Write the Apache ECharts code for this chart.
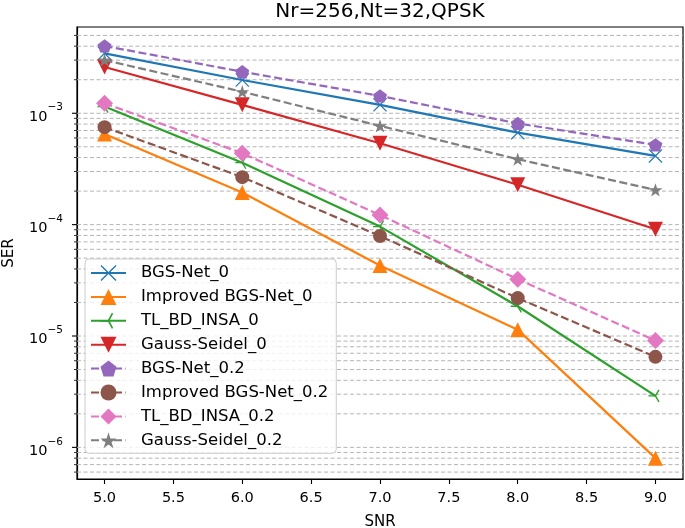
<!DOCTYPE html>
<html><head><meta charset="utf-8">
<script src="https://cdn.jsdelivr.net/npm/echarts@6/dist/echarts.min.js"></script>
<style>html,body{margin:0;padding:0;background:#fff}#c{width:685px;height:528px}</style>
</head><body><div id="c"></div>
<script>
// ---- data ----
const snr = [5, 6, 7, 8, 9];
const xTicks = [5.0, 5.5, 6.0, 6.5, 7.0, 7.5, 8.0, 8.5, 9.0];
const yMajorTicks = [1e-6, 1e-5, 1e-4, 1e-3];
const yMinorMultipliers = [2, 3, 4, 5, 6, 7, 8, 9];
const yDecades = [1e-7, 1e-6, 1e-5, 1e-4, 1e-3];

const bgsNet0     = [3.45e-3, 1.99e-3, 1.19e-3, 6.7e-4, 4.14e-4];
const improved0   = [6.5e-4, 1.94e-4, 4.3e-5, 1.14e-5, 8.0e-7];
const tlbdInsa0   = [1.15e-3, 3.6e-4, 9.6e-5, 1.85e-5, 2.9e-6];
const gaussSeidel0= [2.6e-3, 1.19e-3, 5.38e-4, 2.28e-4, 9.1e-5];
const bgsNet02    = [4.02e-3, 2.36e-3, 1.43e-3, 8.1e-4, 5.2e-4];
const improved02  = [7.5e-4, 2.67e-4, 7.9e-5, 2.19e-5, 6.5e-6];
const tlbdInsa02  = [1.23e-3, 4.38e-4, 1.22e-4, 3.24e-5, 9.1e-6];
const gaussSeidel02=[3.0e-3, 1.56e-3, 7.7e-4, 3.87e-4, 2.05e-4];

const seriesNames = ['BGS-Net_0','Improved BGS-Net_0','TL_BD_INSA_0','Gauss-Seidel_0',
  'BGS-Net_0.2','Improved BGS-Net_0.2','TL_BD_INSA_0.2','Gauss-Seidel_0.2'];
const seriesValues = [bgsNet0, improved0, tlbdInsa0, gaussSeidel0, bgsNet02, improved02, tlbdInsa02, gaussSeidel02];
const titleText = 'Nr=256,Nt=32,QPSK';

// ---- styles ----
const xMin = 4.8, xMax = 9.2, yMin = 5.2e-7, yMax = 5.95e-3;
const FONT = 'DejaVu Sans';
const colors = ['#1f77b4','#ff7f0e','#2ca02c','#d62728','#9467bd','#8c564b','#e377c2','#7f7f7f'];
const SYM = {
  x: 'path://M0,6L6,0L50,44L94,0L100,6L56,50L100,94L94,100L50,56L6,100L0,94L44,50Z',
  triUp: 'triangle',
  triLeft: 'path://M0,45L50,45L50,55L0,55Z M45.67,47.5L70.67,4.2L79.33,9.2L54.33,52.5Z M54.33,47.5L79.33,90.8L70.67,95.8L45.67,52.5Z M99.8,49.8L100,50L99.8,50.2Z',
  triDown: 'path://M0,0L100,0L50,100Z',
  pentagon: 'path://M50,0L97.55,34.55L79.39,90.45L20.61,90.45L2.45,34.55Z',
  circle: 'circle',
  diamond: 'diamond',
  star: 'path://M50,0L61.17,34.63L97.55,34.55L68.07,55.87L79.39,90.45L50,69L20.61,90.45L31.93,55.87L2.45,34.55L38.83,34.63Z'
};
const symbols = [SYM.x, SYM.triUp, SYM.triLeft, SYM.triDown, SYM.pentagon, SYM.circle, SYM.diamond, SYM.star];
const symSizes = [14, 15, 14, 15, 14, 14, 17, 14];
const dashed = [false,false,false,false,true,true,true,true];

const gridValues = [];
yDecades.forEach(d => { gridValues.push(d); yMinorMultipliers.forEach(m => gridValues.push(m * d)); });
const gridInRange = gridValues.filter(v => v >= yMin && v <= yMax);
const minorInRange = gridInRange.filter(v => yMajorTicks.indexOf(v) < 0);

const chart = echarts.init(document.getElementById('c'), null, {renderer: 'canvas'});

const series = [];
seriesNames.forEach((n, i) => {
  series.push({
    name: n, type: 'line',
    data: snr.map((x, j) => [x, seriesValues[i][j]]),
    symbol: symbols[i], symbolSize: symSizes[i], symbolKeepAspect: true,
    showSymbol: true,
    lineStyle: {color: colors[i], width: 2.2, type: dashed[i] ? [8, 3.5] : 'solid'},
    itemStyle: {color: colors[i], opacity: 1},
    emphasis: {disabled: true},
    z: 2 + i
  });
});

chart.setOption({
  animation: false,
  backgroundColor: '#fff',
  textStyle: {fontFamily: FONT},
  title: {
    text: titleText, left: 380, textAlign: 'center', top: 2, padding: 0,
    textStyle: {fontFamily: FONT, fontSize: 20, fontWeight: 'normal', color: '#000'}
  },
  grid: {left: 77, right: 2, top: 27, bottom: 49, containLabel: false, outerBoundsMode: 'none',
    show: true, borderColor: '#000', borderWidth: 1.2, backgroundColor: 'transparent'},
  legend: {
    data: seriesNames, orient: 'vertical', left: 85, top: 259,
    padding: [5, 8, 4, 5], itemWidth: 35, itemHeight: 20, itemGap: 5.9,
    backgroundColor: 'rgba(255,255,255,0.8)', borderColor: '#cccccc', borderWidth: 1, borderRadius: 4,
    textStyle: {fontFamily: FONT, fontSize: 16.5, color: '#000', padding: [0, 0, 0, 10], lineHeight: 18},
    selectedMode: false, z: 20
  },
  xAxis: {
    type: 'value', min: xMin, max: xMax, splitNumber: 9,
    name: 'SNR', nameLocation: 'middle', nameGap: 36,
    nameTextStyle: {fontFamily: FONT, fontSize: 15, color: '#000'},
    axisLine: {show: true, lineStyle: {color: '#000', width: 1.2}},
    axisTick: {show: true, length: 5, inside: false, customValues: xTicks, lineStyle: {color: '#000', width: 1.1}},
    axisLabel: {
      customValues: xTicks, margin: 12, fontFamily: FONT, fontSize: 14.5, color: '#000',
      formatter: v => (xTicks.some(t => Math.abs(t - v) < 1e-9) ? Number(v).toFixed(1) : '')
    },
    splitLine: {show: false}
  },
  yAxis: {
    type: 'log', logBase: 10, min: yMin, max: yMax,
    name: 'SER', nameLocation: 'middle', nameGap: 60, nameRotate: 90,
    nameTextStyle: {fontFamily: FONT, fontSize: 15, color: '#000'},
    axisLine: {show: true, lineStyle: {color: '#000', width: 1.2}},
    axisTick: {show: false},
    axisLabel: {
      margin: 14, fontFamily: FONT, color: '#000',
      formatter: v => {
        const l = Math.log10(v), e = Math.round(l);
        if (Math.abs(l - e) > 1e-6) return '';
        return '{b|10}{s|\u2212' + (-e) + '}';
      },
      rich: {
        b: {fontFamily: FONT, fontSize: 14.5, color: '#000', lineHeight: 22, verticalAlign: 'bottom'},
        s: {fontFamily: FONT, fontSize: 10.5, color: '#000', lineHeight: 14, verticalAlign: 'top'}
      }
    },
    splitLine: {show: false},
    minorTick: {show: false}, minorSplitLine: {show: false}
  },
  series: series
});

// grid lines and tick marks on the log axis, positioned by the library's scales
const x0 = chart.convertToPixel({xAxisIndex: 0}, xMin);
const x1 = chart.convertToPixel({xAxisIndex: 0}, xMax);
const els = [];
gridInRange.forEach(v => {
  const y = chart.convertToPixel({yAxisIndex: 0}, v);
  els.push({type: 'line', silent: true, z: 1, shape: {x1: x0, y1: y, x2: x1, y2: y},
    style: {stroke: '#b4b4b4', lineWidth: 1, lineDash: [4, 2.5]}});
});
yMajorTicks.forEach(v => {
  const y = chart.convertToPixel({yAxisIndex: 0}, v);
  els.push({type: 'line', silent: true, z: 10, shape: {x1: x0 - 5, y1: y, x2: x0, y2: y}, style: {stroke: '#000', lineWidth: 1.1}});
});
minorInRange.forEach(v => {
  const y = chart.convertToPixel({yAxisIndex: 0}, v);
  els.push({type: 'line', silent: true, z: 10, shape: {x1: x0 - 3, y1: y, x2: x0, y2: y}, style: {stroke: '#000', lineWidth: 0.8}});
});
chart.setOption({graphic: els});
</script>
</body></html>
